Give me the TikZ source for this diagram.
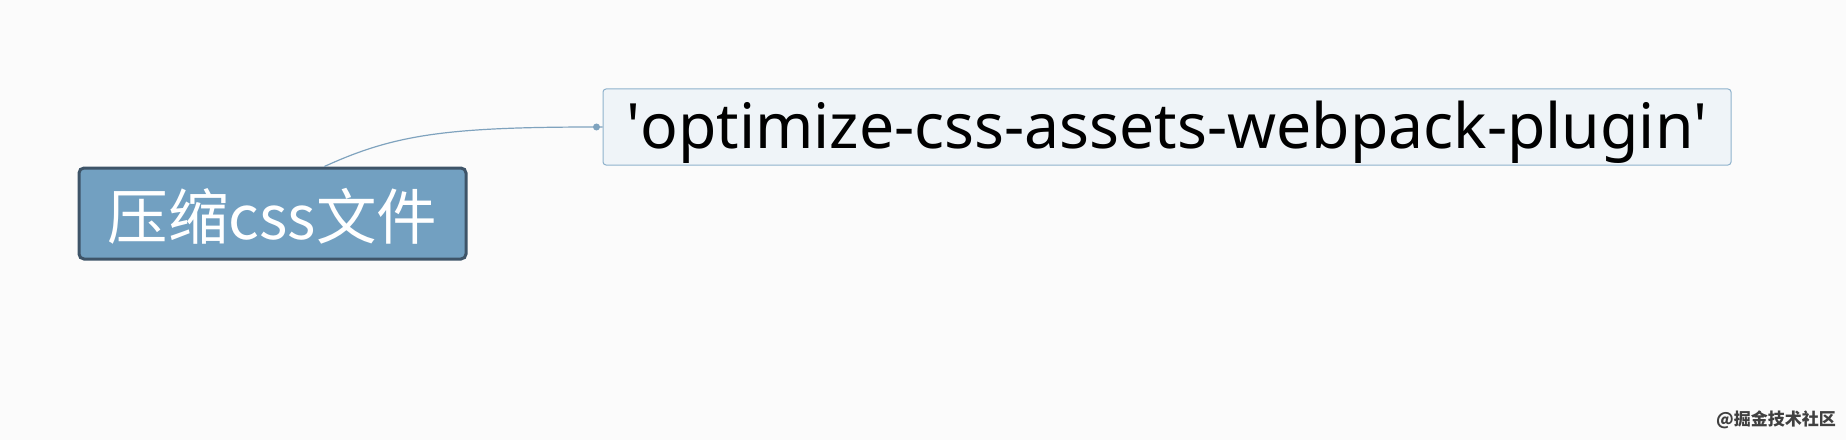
\documentclass[tikz,border=0pt]{standalone}
\usepackage{fontspec}
\setmainfont{Noto Sans}
\newfontfamily\cjk{Noto Sans CJK SC}
\usetikzlibrary{calc}
\definecolor{bgc}{HTML}{FBFBFB}
\definecolor{rootfill}{HTML}{72A0C1}
\definecolor{rootdraw}{HTML}{3E5468}
\definecolor{leaffill}{HTML}{EFF4F8}
\definecolor{leafdraw}{HTML}{8FB2CC}
\definecolor{linkc}{HTML}{7FA3BE}
\tikzset{
  rootbox/.style={draw=rootdraw, line width=3pt, fill=rootfill, rounded corners=5pt,
    minimum width=387pt, minimum height=91pt, inner sep=0pt, text=white,
    font=\cjk\fontsize{60.5}{66}\selectfont},
  leafbox/.style={draw=leafdraw, line width=1pt, fill=leaffill, rounded corners=3pt,
    minimum width=1128pt, minimum height=76pt, inner sep=0pt, text=black,
    font=\fontsize{62.5}{70}\selectfont},
  link/.style={draw=linkc, line width=1.2pt},
}
\begin{document}
\begin{tikzpicture}[x=1pt,y=1pt]
\fill[bgc] (0,0) rectangle (1846,440);
\useasboundingbox (0,0) rectangle (1846,440);
\node[rootbox] (a) at (272.5,226.5) {\raisebox{-3pt}[\height][\depth]{压缩css文件}};
\node[leafbox] (b) at (1167,313) {\raisebox{-5pt}[\height][\depth]{\textquotesingle optimize-css-assets-webpack-plugin\textquotesingle}};
\coordinate (s) at ($(a.north west)!0.633!(a.north east)$);
\coordinate (e) at ($(b.west)+(-6,0)$);
\draw[link] (s) .. controls ($(s)+(70,32)$) and ($(e)+(-150,0)$) .. (e) -- (b.west);
\fill[linkc] (e) circle (3.5pt);
\node[anchor=east, inner sep=0pt, text=black!75, font=\cjk\bfseries\fontsize{17}{20}\selectfont] (w) at (1836,20) {@掘金技术社区};
\end{tikzpicture}
\end{document}
